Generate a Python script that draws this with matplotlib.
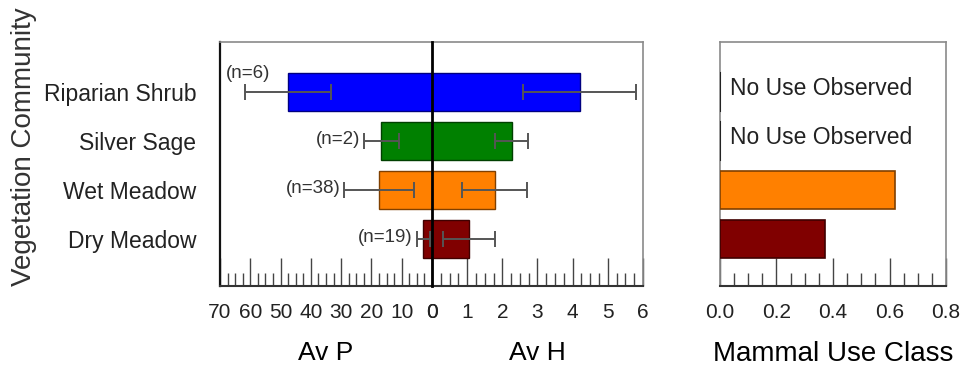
import matplotlib
matplotlib.use('Agg')
import matplotlib.pyplot as plt
from matplotlib.ticker import MultipleLocator

plt.rcParams['font.family'] = ['Liberation Sans', 'DejaVu Sans']
plt.rcParams['text.color'] = '#222222'
plt.rcParams['xtick.labelcolor'] = '#222222'
plt.rcParams['ytick.labelcolor'] = '#222222'

# Data
categories = ['Riparian Shrub', 'Silver Sage', 'Wet Meadow', 'Dry Meadow']
bar_colors = ['#0000ff', '#008000', '#ff8000', '#800000']
edge_colors = ['#000080', '#004000', '#804000', '#400000']
av_p = [47.6, 16.7, 17.4, 2.9]
av_p_err = [14.1, 5.7, 11.5, 2.1]
av_h = [4.2, 2.27, 1.78, 1.05]
av_h_err = [1.6, 0.47, 0.92, 0.75]
n_obs = [6, 2, 38, 19]
mammal_use = [0, 0, 0.62, 0.37]

ypos = [3, 2, 1, 0]
bar_h = 0.78
frame_grey = '#8a8a8a'
tick_col = '#444444'

fig = plt.figure(figsize=(9.61, 3.69), dpi=100)
bottom, height = 0.2249, 0.6612
axP = fig.add_axes([0.2289, bottom, 0.2206, height])
axH = fig.add_axes([0.4495, bottom, 0.2196, height])
axM = fig.add_axes([0.7492, bottom, 0.2352, height])

err_kw = dict(fmt='none', ecolor='#555555', elinewidth=1.4, capsize=6, capthick=1.4, zorder=4)

# Av P (left, reversed)
axP.barh(ypos, av_p, height=bar_h, color=bar_colors, edgecolor=edge_colors, linewidth=1, zorder=3)
axP.errorbar(av_p, ypos, xerr=av_p_err, **err_kw)
axP.set_xlim(70, 0)
axP.xaxis.set_major_locator(MultipleLocator(10))
axP.xaxis.set_minor_locator(MultipleLocator(2.5))
axP.set_xlabel('Av P', fontsize=19, labelpad=14)

for i, (p, e, n) in enumerate(zip(av_p, av_p_err, n_obs)):
    if i == 0:
        axP.annotate(f'(n={n})', xy=(p + e, ypos[i]), xytext=(2, 13),
                     textcoords='offset points', ha='center', va='center',
                     fontsize=13.5, color='#333333')
    else:
        axP.annotate(f'(n={n})', xy=(p + e, ypos[i]), xytext=(-3, 1),
                     textcoords='offset points', ha='right', va='center',
                     fontsize=13.5, color='#333333')

# Av H (right)
axH.barh(ypos, av_h, height=bar_h, color=bar_colors, edgecolor=edge_colors, linewidth=1, zorder=3)
axH.errorbar(av_h, ypos, xerr=av_h_err, **err_kw)
axH.set_xlim(0, 6)
axH.xaxis.set_major_locator(MultipleLocator(1))
axH.xaxis.set_minor_locator(MultipleLocator(0.25))
axH.set_xlabel('Av H', fontsize=19, labelpad=14)

# Mammal use
axM.barh(ypos, mammal_use, height=bar_h, color=bar_colors, edgecolor=edge_colors, linewidth=1.2, zorder=3)
for y, v in zip(ypos, mammal_use):
    if v == 0:
        axM.plot([0, 0], [y - bar_h / 2, y + bar_h / 2], color='#222222', lw=1.5, zorder=4)
        axM.text(0.035, y + 0.07, 'No Use Observed', fontsize=16.5, va='center', ha='left')
axM.set_xlim(0, 0.8)
axM.xaxis.set_major_locator(MultipleLocator(0.2))
axM.xaxis.set_minor_locator(MultipleLocator(0.05))
axM.xaxis.set_major_formatter(plt.FormatStrFormatter('%.1f'))
axM.set_xlabel('Mammal Use Class', fontsize=20, labelpad=14)

for ax in (axP, axH, axM):
    ax.set_ylim(-0.96, 4.02)
    ax.tick_params(axis='x', which='major', direction='in', length=20, width=1,
                   color=tick_col, labelsize=15, pad=12, top=False)
    ax.tick_params(axis='x', which='minor', direction='in', length=9.5, width=1,
                   color=tick_col, top=False)
    for s in ax.spines.values():
        s.set_color(frame_grey)
        s.set_linewidth(1.2)
    ax.spines['bottom'].set_color('#333333')
    ax.spines['bottom'].set_linewidth(1.5)

axP.set_yticks(ypos)
axP.set_yticklabels(categories, fontsize=16.5)
axP.tick_params(axis='y', length=0, pad=17)
axP.spines['left'].set_color('#111111')
axP.spines['left'].set_linewidth(1.6)
axP.spines['right'].set_visible(False)

axH.set_yticks([])
axH.spines['left'].set_color('#000000')
axH.spines['left'].set_linewidth(2)
axH.spines['left'].set_zorder(6)

axM.set_yticks([])

fig.text(0.025, 0.6016, 'Vegetation Community', rotation=90, fontsize=20,
         ha='center', va='center', color='#333333')

fig.savefig('out.png', dpi=100)
